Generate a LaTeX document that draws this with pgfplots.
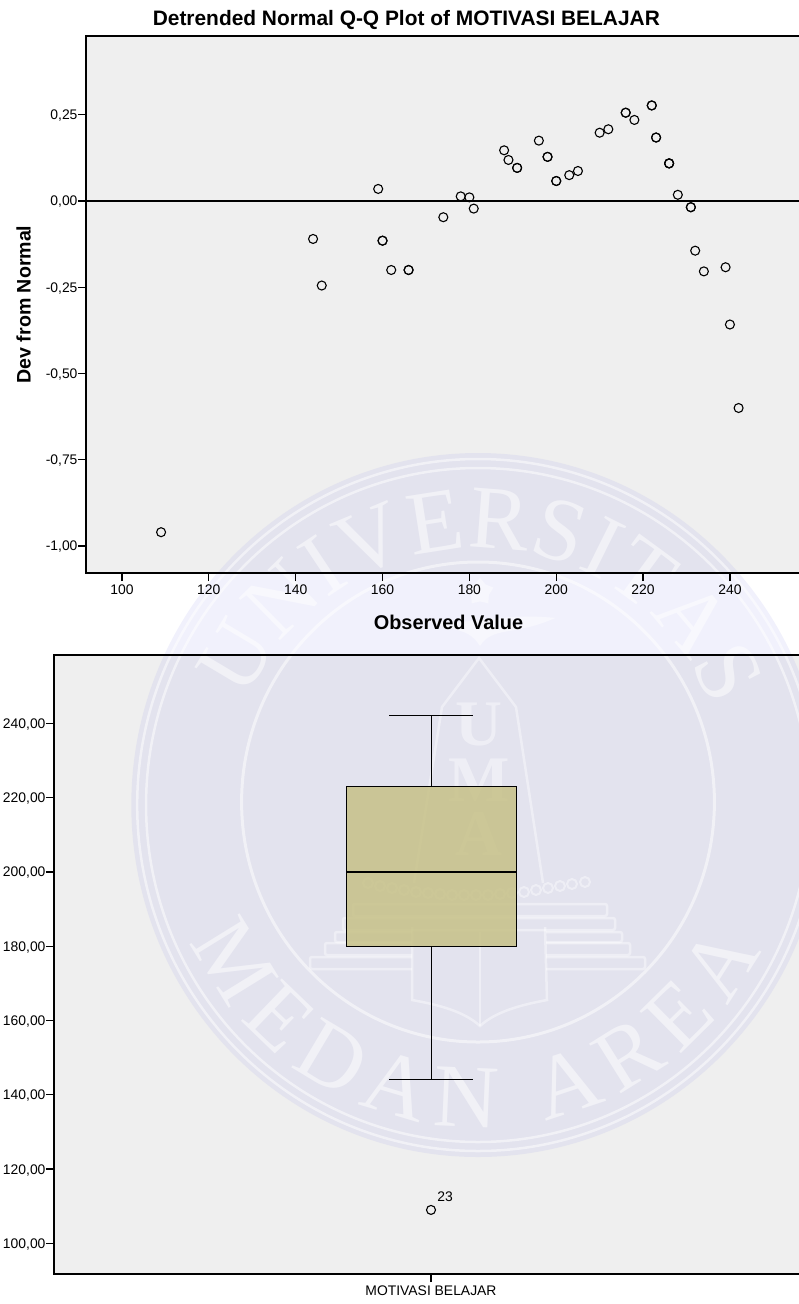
\documentclass[border=0pt]{standalone}
\usepackage{fontspec}
\setmainfont{Liberation Sans}
\newfontfamily\wmfont{Liberation Serif}
\usepackage{pgfplots}
\pgfplotsset{compat=1.18}
\usetikzlibrary{decorations.text,shapes.geometric}
\definecolor{panel}{HTML}{EFEFEF}
\definecolor{wmblue}{RGB}{178,178,238}
\definecolor{boxfill}{HTML}{C4BE80}

\pgfplotsset{
  spss/.style={
    scale only axis,
    axis line style={line width=1.2pt},
    tick style={line width=1.2pt,black},
    major tick length=8pt,
    tick align=outside,
    tick pos=left,
    ticklabel style={font=\fontsize{13.9}{15}\selectfont},
    /pgf/number format/assume math mode=true,
    yticklabel style={yshift=-1pt,/pgf/number format/.cd,fixed,fixed zerofill,precision=2,use comma},
    yticklabel shift=-3pt,
    every axis title shift=0pt,
  },
}

\begin{document}
\begin{tikzpicture}[x=1pt,y=1pt]
\path[use as bounding box,clip] (0,0) rectangle (799,-1304);

% grey panels go under the watermark
\fill[panel] (86,-36) rectangle (799,-573);
\fill[panel] (54,-655) rectangle (799,-1274);

% watermark
\begin{scope}[shift={(478,-805)},xscale=.985]
  \fill[wmblue,opacity=.18] (0,0) circle[radius=352];
  \begin{scope}[opacity=.5,draw=white]
    \draw[line width=2.5pt] (0,0) circle[radius=346];
    \draw[line width=2.5pt] (0,0) circle[radius=337];
    \draw[line width=3pt] (0,3) circle[radius=240];
    \path[decorate,decoration={text along path,text align={fit to path},
      text={|\wmfont\fontsize{90}{90}\selectfont\color{white}|UNIVERSITAS}}]
      (156:257) arc[start angle=156,end angle=22,radius=257];
    \path[decorate,decoration={text along path,text align={fit to path},
      text={|\wmfont\fontsize{90}{90}\selectfont\color{white}|MEDAN AREA}}]
      (205:322) arc[start angle=205,end angle=333,radius=322];
  \end{scope}
\end{scope}
\begin{scope}[opacity=.42,draw=white,line width=2.5pt]
  \draw (414,-883) -- (442,-707) -- (479,-658) -- (516,-707) -- (543,-883);
  \node[white,font=\wmfont\bfseries\fontsize{65}{65}\selectfont] at (479,-725) {U};
  \node[white,font=\wmfont\bfseries\fontsize{65}{65}\selectfont] at (479,-780) {M};
  \node[white,font=\wmfont\bfseries\fontsize{65}{65}\selectfont] at (479,-834) {A};
  \draw[rounded corners=2pt] (353,-904) rectangle (607,-916);
  \draw[rounded corners=2pt] (343,-918) rectangle (615,-930);
  \draw[rounded corners=2pt] (412,-932) -- (335,-932) -- (335,-942) -- (412,-942) (546,-932) -- (622,-932) -- (622,-942) -- (546,-942);
  \draw[rounded corners=2pt] (412,-943) -- (325,-943) -- (325,-955) -- (412,-955) (546,-943) -- (630,-943) -- (630,-955) -- (546,-955);
  \draw[rounded corners=2pt] (412,-957) -- (310,-957) -- (310,-969) -- (412,-969) (546,-957) -- (645,-957) -- (645,-969) -- (546,-969);
  \foreach \bx/\by in {368/883,380/886,392/888,404/890,416/892,428/893,440/894,452/895,464/895,
    476/895,488/895,500/894,512/893,524/892,536/890,548/888,560/886,572/884,585/882}
    \draw[line width=2pt] (\bx,-\by) circle[radius=5];
  \draw (412,-927) -- (412,-1000) .. controls (440,-1005) and (465,-1012) .. (480,-1026)
    .. controls (495,-1012) and (520,-1005) .. (547,-1000) -- (545,-927);
  \draw (480,-932) -- (480,-1026);
  \node[star,star points=5,fill=white,minimum size=28pt,inner sep=0pt] at (480,-592) {};
  \fill[white] (428,-620) .. controls (460,-628) and (500,-612) .. (555,-618)
    .. controls (515,-636) and (492,-626) .. (480,-646) .. controls (468,-626) and (450,-632) .. (428,-620);
\end{scope}

% Q-Q panel
\begin{axis}[spss,
  at={(86pt,-573pt)},anchor=south west,
  width=716pt,height=537pt,
  xmin=91.71,xmax=256.6,
  ymin=-1.0783,ymax=0.4783,
  xtick={100,120,...,240},
  ytick={-1,-0.75,-0.5,-0.25,0,0.25},
  title={Detrended Normal Q-Q Plot of MOTIVASI BELAJAR},
  title style={font=\bfseries\fontsize{20.9}{22}\selectfont,at={(axis description cs:0.4474,1.029)},anchor=center},
  xlabel={Observed Value},
  xlabel style={font=\bfseries\fontsize{19.9}{22}\selectfont,at={(axis description cs:0.5063,-0.0912)},anchor=center},
  ylabel={Dev from Normal},
  ylabel style={font=\bfseries\fontsize{19.6}{22}\selectfont,at={(axis description cs:-0.087,0.5)},anchor=center},
]
\addplot[black,line width=1.5pt] coordinates {(91.71,0) (256.6,0)};
\addplot[only marks,mark=o,mark size=4.5pt,mark options={line width=1.1pt,black}] coordinates {
  (109,-0.96) (144,-0.11) (146,-0.245) (159,0.035) (160,-0.115) (160,-0.115)
  (162,-0.2) (166,-0.2) (166,-0.2) (174,-0.047) (178,0.0135) (180,0.0106)
  (181,-0.022) (188,0.147) (189,0.119) (191,0.096) (191,0.096) (196,0.175)
  (198,0.128) (198,0.128) (200,0.058) (200,0.058) (203,0.075) (205,0.087)
  (210,0.198) (212,0.208) (216,0.256) (216,0.256) (218,0.235) (222,0.277)
  (222,0.277) (223,0.184) (223,0.184) (226,0.109) (226,0.109) (226,0.109)
  (228,0.018) (231,-0.018) (231,-0.018) (232,-0.144) (234,-0.204) (239,-0.192)
  (240,-0.358) (242,-0.6)
};
\end{axis}

% box plot panel, x in page pixels with the one category at 431
\begin{axis}[spss,
  at={(54pt,-1274pt)},anchor=south west,
  width=748pt,height=619pt,
  xmin=54,xmax=802,
  ymin=91.75,ymax=258.4,
  xtick={431},xticklabels={MOTIVASI BELAJAR},
  ytick={100,120,...,240},
  axis line style={line width=1.1pt},
]
% whiskers and caps
\addplot[black,line width=1pt] coordinates {(431,144) (431,180)};
\addplot[black,line width=1pt] coordinates {(431,223) (431,242)};
\addplot[black,line width=1pt] coordinates {(389,144) (473,144)};
\addplot[black,line width=1pt] coordinates {(389,242) (473,242)};
% box, then median
\addplot[draw=black,line width=1pt,fill=boxfill,fill opacity=.8] coordinates {(346,180) (516,180) (516,223) (346,223) (346,180)};
\addplot[black,line width=2.8pt] coordinates {(346,200) (516,200)};
% outlier
\addplot[only marks,mark=o,mark size=4.5pt,mark options={line width=1.1pt,black}] coordinates {(431,109)};
\node[font=\fontsize{13.9}{15}\selectfont] at (axis cs:445,112.5) {23};
\end{axis}
\end{tikzpicture}
\end{document}
